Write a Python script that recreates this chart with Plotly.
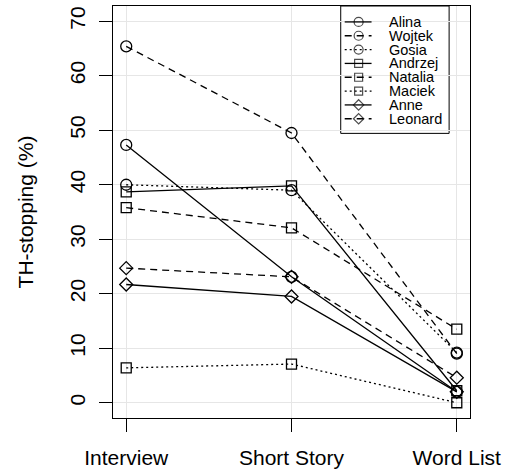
import plotly.graph_objects as go

# TH-stopping rates per speaker across three speech styles
styles = ["Interview", "Short Story", "Word List"]
speakers = ["Alina", "Wojtek", "Gosia", "Andrzej", "Natalia", "Maciek", "Anne", "Leonard"]
alina = [47.3, 23.1, 2.0]
wojtek = [65.4, 49.5, 9.0]
gosia = [40.0, 39.0, 9.2]
andrzej = [38.7, 39.8, 2.2]
natalia = [35.8, 32.1, 13.5]
maciek = [6.4, 7.1, 0.0]
anne = [21.7, 19.5, 2.0]
leonard = [24.7, 23.1, 4.6]
series = [alina, wojtek, gosia, andrzej, natalia, maciek, anne, leonard]

symbols = ["circle-open", "circle-open", "circle-open",
           "square-open", "square-open", "square-open",
           "diamond-open", "diamond-open"]
dashes = ["solid", "7px,5px", "2px,3px",
          "solid", "7px,5px", "2px,3px",
          "solid", "7px,5px"]
sizes = {"circle-open": 11, "square-open": 10, "diamond-open": 10}

FONT = "Liberation Sans, Arial, Helvetica, sans-serif"
W, H = 506, 474
ML, MR, MT, MB = 113, 34, 5, 55

fig = go.Figure()
xpos = [1, 2, 3]
for name, vals, sym, dash in zip(speakers, series, symbols, dashes):
    fig.add_trace(go.Scatter(
        x=xpos, y=vals, name=name, mode="lines+markers",
        line=dict(color="black", width=1.3, dash=dash),
        marker=dict(symbol=sym, size=sizes[sym], color="black",
                    line=dict(color="black", width=1.3)),
        showlegend=False,
    ))

# Hand-built legend on an overlay axis measured in pixels
px_x0, px_x1 = ML, W - MR
px_y0, px_y1 = H - MB, MT
row0, row_step = 21, 13.9
seg_l, seg_r, seg_c = 346, 373, 360
for i, (name, sym, dash) in enumerate(zip(speakers, symbols, dashes)):
    yy = row0 + i * row_step
    fig.add_trace(go.Scatter(
        x=[seg_l, seg_c, seg_r], y=[yy, yy, yy], mode="lines+markers",
        line=dict(color="black", width=1.3, dash=dash),
        marker=dict(symbol=sym, size=[0, sizes[sym] - 2, 0], color="black",
                    line=dict(color="black", width=1.2)),
        xaxis="x2", yaxis="y2", showlegend=False, hoverinfo="skip",
    ))
    fig.add_annotation(
        x=389, y=yy, xref="x2", yref="y2", text=name, showarrow=False,
        xanchor="left", yanchor="middle",
        font=dict(family=FONT, size=14.5, color="black"),
    )
fig.add_shape(type="rect", x0=342, x1=451, y0=MT, y1=133,
              xref="x2", yref="y2", line=dict(color="black", width=1),
              fillcolor="white", layer="below")

fig.update_layout(
    width=W, height=H,
    margin=dict(l=ML, r=MR, t=MT, b=MB, pad=0),
    paper_bgcolor="white", plot_bgcolor="white",
    font=dict(family=FONT, size=21, color="black"),
    xaxis=dict(
        range=[0.92, 3.08], tickmode="array", tickvals=xpos, ticktext=styles,
        showgrid=True, gridcolor="#e6e6e6", gridwidth=1,
        showline=True, linecolor="black", linewidth=1, mirror=True,
        ticks="outside", ticklen=13, tickcolor="black", tickwidth=1,
        zeroline=False, ticklabelstandoff=8,
        tickfont=dict(family=FONT, size=21),
    ),
    yaxis=dict(
        range=[-2.8, 72.8], tickmode="array", tickvals=list(range(0, 71, 10)),
        showgrid=True, gridcolor="#e6e6e6", gridwidth=1,
        showline=True, linecolor="black", linewidth=1, mirror=True,
        ticks="outside", ticklen=13, tickcolor="black", tickwidth=1,
        zeroline=False, tickangle=-90, ticklabelstandoff=6,
        tickfont=dict(family=FONT, size=21),
        title=dict(text="TH-stopping (%)", font=dict(family=FONT, size=21),
                   standoff=26),
    ),
    xaxis2=dict(range=[px_x0, px_x1], overlaying="x", visible=False,
                domain=[0, 1]),
    yaxis2=dict(range=[px_y0, px_y1], overlaying="y", visible=False,
                domain=[0, 1]),
)

fig.write_html("out.html")
